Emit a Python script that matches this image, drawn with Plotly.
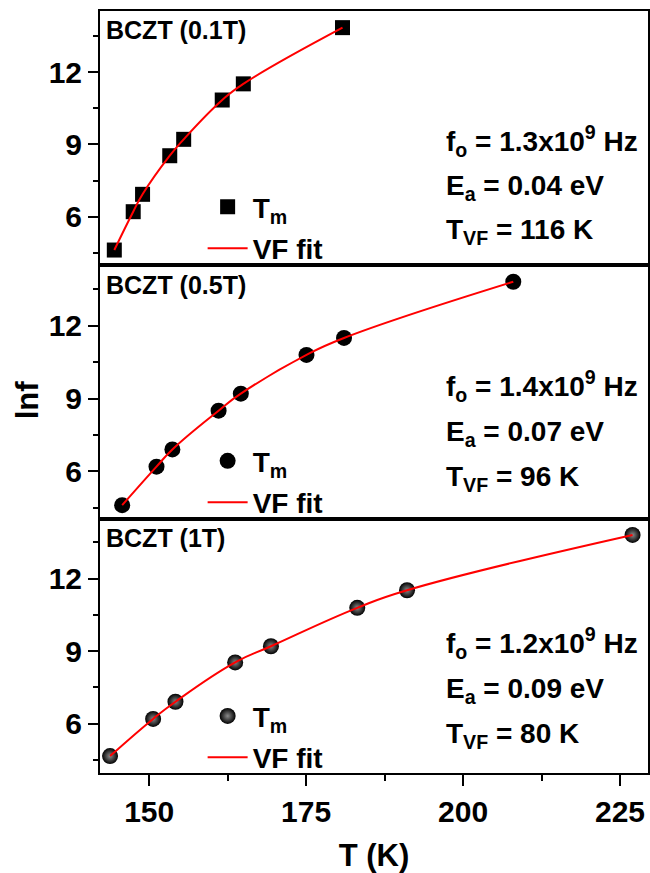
import plotly.graph_objects as go
from plotly.subplots import make_subplots

FONT = "Arial, 'Liberation Sans', sans-serif"

# ---- data ----
T_01 = [144.45, 147.46, 148.95, 153.28, 155.5, 161.64, 165.0, 180.8]
T_05 = [145.7, 151.17, 153.7, 161.06, 164.6, 175.06, 181.04, 208.0]
T_1 = [143.77, 150.63, 154.19, 163.7, 169.4, 183.15, 191.08, 227.0]
lnf_01 = [4.62, 6.21, 6.93, 8.53, 9.21, 10.84, 11.51, 13.84]
lnf_05 = [4.60, 6.19, 6.90, 8.50, 9.20, 10.80, 11.50, 13.82]
lnf_1 = [4.65, 6.19, 6.90, 8.53, 9.20, 10.79, 11.52, 13.81]

panel_labels = ["BCZT (0.1T)", "BCZT (0.5T)", "BCZT (1T)"]
f0_text = ["1.3x10<sup>9</sup> Hz", "1.4x10<sup>9</sup> Hz", "1.2x10<sup>9</sup> Hz"]
Ea_text = ["0.04 eV", "0.07 eV", "0.09 eV"]
Tvf_text = ["116 K", "96 K", "80 K"]
x_ticks = [150, 175, 200, 225]
y_ticks = [6, 9, 12]

series_T = [T_01, T_05, T_1]
series_lnf = [lnf_01, lnf_05, lnf_1]

fig = make_subplots(rows=3, cols=1, shared_xaxes=True, vertical_spacing=0)

marker_styles = [
    dict(symbol="square", size=15, color="black"),
    dict(symbol="circle", size=16, color="black"),
    dict(symbol="circle", size=16, color="black",
         gradient=dict(type="radial", color="#8a8a8a")),
]
legend_names = ["legend", "legend2", "legend3"]

for i in range(3):
    r = i + 1
    fig.add_trace(go.Scatter(
        x=series_T[i], y=series_lnf[i], mode="markers",
        marker=marker_styles[i], name="<b>T<sub>m</sub></b>",
        legend=legend_names[i], legendgroup=f"m{i}"), row=r, col=1)
    fig.add_trace(go.Scatter(
        x=series_T[i], y=series_lnf[i], mode="lines",
        line=dict(color="red", width=2, shape="spline", smoothing=1.3),
        name="<b>VF fit</b>", legend=legend_names[i], legendgroup=f"f{i}"),
        row=r, col=1)

yranges = [[4.0, 14.53], [4.03, 14.51], [3.95, 14.47]]

for i in range(3):
    r = i + 1
    fig.update_xaxes(
        range=[142.17, 229.46], showline=True, linewidth=2, linecolor="black",
        mirror=True, showgrid=False, zeroline=False,
        tickmode="linear", tick0=150, dtick=25,
        ticks="outside" if r == 3 else "", ticklen=11, tickwidth=2, tickcolor="black",
        minor=dict(dtick=12.5, ticklen=6, tickwidth=2, tickcolor="black",
                   ticks="outside" if r == 3 else ""),
        tickfont=dict(family=FONT, size=30, color="black", weight="bold"),
        row=r, col=1)
    fig.update_yaxes(
        range=yranges[i], showline=True, linewidth=2, linecolor="black",
        mirror=True, showgrid=False, zeroline=False,
        tickmode="array", tickvals=y_ticks,
        ticks="outside", ticklen=10, tickwidth=2, tickcolor="black",
        minor=dict(tickmode="linear", tick0=0, dtick=1.5, ticklen=5, tickwidth=2,
                   tickcolor="black", ticks="outside"),
        tickfont=dict(family=FONT, size=30, color="black", weight="bold"),
        ticklabelstandoff=0,
        row=r, col=1)

fig.update_xaxes(title=dict(text="T (K)", standoff=18,
                            font=dict(family=FONT, size=31, color="black", weight="bold")),
                 row=3, col=1)

annotations = []
yrefs = ["y domain", "y2 domain", "y3 domain"]
xrefs = ["x domain", "x2 domain", "x3 domain"]
label_y = [0.925, 0.922, 0.925]
param_y = [[0.49, 0.305, 0.13], [0.525, 0.335, 0.16], [0.513, 0.323, 0.148]]
for i in range(3):
    annotations.append(dict(
        text=f"<b>{panel_labels[i]}</b>", xref=xrefs[i], yref=yrefs[i],
        x=0.007, y=label_y[i], xanchor="left", yanchor="middle", showarrow=False,
        font=dict(family=FONT, size=25, color="black")))
    lines = [f"<b>f<sub>o</sub> = {f0_text[i]}</b>",
             f"<b>E<sub>a</sub> = {Ea_text[i]}</b>",
             f"<b>T<sub>VF</sub> = {Tvf_text[i]}</b>"]
    for j, t in enumerate(lines):
        annotations.append(dict(
            text=t, xref=xrefs[i], yref=yrefs[i], x=0.627, y=param_y[i][j],
            xanchor="left", yanchor="middle", showarrow=False,
            font=dict(family=FONT, size=28, color="black")))

annotations.append(dict(
    text="<b>lnf</b>", xref="paper", yref="paper", x=-0.132, y=0.49,
    xanchor="center", yanchor="middle", textangle=-90, showarrow=False,
    font=dict(family=FONT, size=31, color="black")))

legend_common = dict(
    font=dict(family=FONT, size=28, color="black"),
    bgcolor="rgba(0,0,0,0)", borderwidth=0, xanchor="left", yanchor="top",
    tracegroupgap=2, itemwidth=40)
legend_tops_px = [182, 436, 691]
layout_legends = {}
for k, name in enumerate(legend_names):
    ypaper = (772.7 - legend_tops_px[k]) / 761.7
    layout_legends[name] = dict(legend_common, x=(203 - 100) / 550, y=ypaper)

fig.update_layout(
    width=650, height=873,
    margin=dict(l=100, r=0, t=11, b=100),
    paper_bgcolor="white", plot_bgcolor="white",
    showlegend=True, annotations=annotations,
    **layout_legends)

fig.write_html("out.html")
